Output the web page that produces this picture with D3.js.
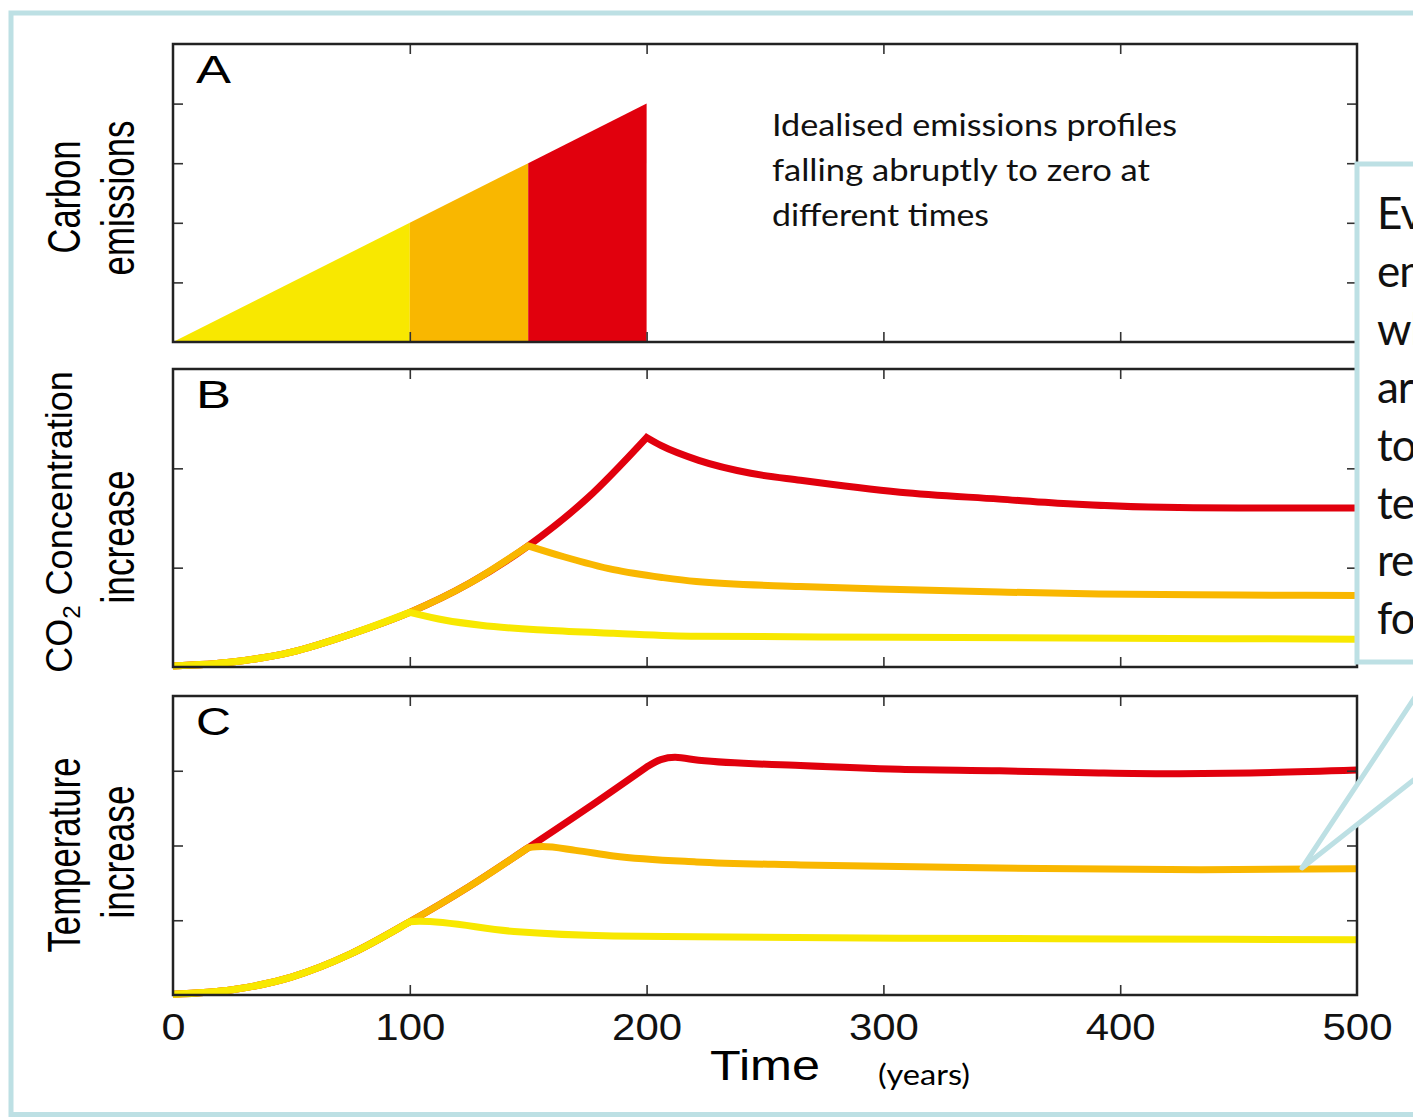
<!DOCTYPE html>
<html lang="en">
<head>
<meta charset="UTF-8">
<script src="https://d3js.org/d3.v7.min.js"></script>
<style>
  body { margin: 0; background: #fff; }
  svg { display: block; }
  .axis path { display: none; }
  .axis line { stroke: #333; stroke-width: 1.6; }
</style>
</head>
<body>
<svg id="chart" width="1413" height="1117"></svg>
<script>
// x axis
const xTicks = [0, 100, 200, 300, 400, 500];

// panel A: emissions ramp, cut at three times
const emisT = [0, 100, 150, 200];
const emisV = [0, 2, 3, 4];
const seriesColors = ['#f8e800', '#f9b700', '#e1000d'];   // yellow, orange, red
const stopTimes = [100, 150, 200];

// panel B: CO2 concentration increase
const co2RiseT = [0, 25, 50, 75, 100, 125, 150, 175, 200];
const co2RiseV = [0.01, 0.05, 0.15, 0.33, 0.55, 0.84, 1.22, 1.70, 2.31];
const co2YellowT = [100, 115, 130, 158, 186, 221, 307, 400, 500];
const co2YellowV = [0.55, 0.47, 0.42, 0.37, 0.34, 0.31, 0.30, 0.29, 0.28];
const co2OrangeT = [150, 165, 186, 207, 221, 265, 307, 349, 391, 450, 500];
const co2OrangeV = [1.22, 1.11, 0.98, 0.90, 0.86, 0.81, 0.78, 0.755, 0.735, 0.725, 0.72];
const co2RedT = [200, 206, 222, 244, 265, 307, 349, 380, 412, 450, 500];
const co2RedV = [2.31, 2.23, 2.08, 1.95, 1.88, 1.76, 1.69, 1.64, 1.61, 1.60, 1.60];

// panel C: temperature increase
const tempRiseT = [0, 25, 50, 75, 100, 125, 150, 175, 200];
const tempRiseV = [0.01, 0.07, 0.24, 0.55, 0.98, 1.45, 1.97, 2.50, 3.05];
const tempYellowT = [100, 104, 144, 186, 221, 307, 400, 500];
const tempYellowV = [0.98, 0.985, 0.85, 0.79, 0.78, 0.76, 0.75, 0.74];
const tempOrangeT = [150, 156, 170, 186, 221, 265, 349, 434, 500];
const tempOrangeV = [1.97, 1.985, 1.935, 1.86, 1.78, 1.74, 1.70, 1.675, 1.69];
const tempRedT = [200, 206, 212, 222, 265, 307, 349, 391, 420, 455, 500];
const tempRedV = [3.05, 3.15, 3.18, 3.14, 3.07, 3.02, 3.00, 2.97, 2.96, 2.97, 3.01];

const noteLines = ['Idealised emissions profiles', 'falling abruptly to zero at', 'different times'];
const calloutLines = ['Even after', 'emissions cease,', 'which they', 'are unlikely', 'to do soon,',
  'temperatures', 'remain high', 'for centuries'];

const svg = d3.select('#chart');
const helv = '"Liberation Sans", Arial, Helvetica, sans-serif';
const gill = 'Lato, "Open Sans", sans-serif';
const frameBlue = '#bde0e4';

const x = d3.scaleLinear().domain([0, 500]).range([173, 1357]);
const zip = (t, v) => t.map((d, i) => [d, v[i]]);

// outer frame
svg.append('rect')
  .attr('x', 11).attr('y', 13).attr('width', 1500).attr('height', 1101.5)
  .attr('fill', 'none').attr('stroke', frameBlue).attr('stroke-width', 5);

function panel(top, bottom, ymax, yticks, letter) {
  const y = d3.scaleLinear().domain([0, ymax]).range([bottom, top]);
  const g = svg.append('g');
  const marks = g.append('g');
  const inner = xTicks.slice(1, -1);
  g.append('g').attr('class', 'axis').attr('transform', `translate(0,${bottom})`)
    .call(d3.axisBottom(x).tickValues(inner).tickSize(-10).tickFormat(''));
  g.append('g').attr('class', 'axis').attr('transform', `translate(0,${top})`)
    .call(d3.axisTop(x).tickValues(inner).tickSize(-10).tickFormat(''));
  g.append('g').attr('class', 'axis').attr('transform', `translate(${x(0)},0)`)
    .call(d3.axisLeft(y).tickValues(yticks).tickSize(-10).tickFormat(''));
  g.append('g').attr('class', 'axis').attr('transform', `translate(${x(500)},0)`)
    .call(d3.axisRight(y).tickValues(yticks).tickSize(-10).tickFormat(''));
  g.append('rect')
    .attr('x', x(0)).attr('y', top).attr('width', x(500) - x(0)).attr('height', bottom - top)
    .attr('fill', 'none').attr('stroke', '#222').attr('stroke-width', 2.5);
  g.append('text')
    .attr('x', 196).attr('y', top + 39)
    .attr('font-family', helv).attr('font-size', 39)
    .attr('textLength', 35).attr('lengthAdjust', 'spacingAndGlyphs')
    .text(letter);
  return { y, marks };
}

const A = panel(44, 342, 5, [1, 2, 3, 4], 'A');
const B = panel(369, 667, 3, [1, 2], 'B');
const C = panel(696, 995, 4, [1, 2, 3], 'C');

// panel A areas
const area = d3.area().x(d => x(d[0])).y0(A.y(0)).y1(d => A.y(d[1]));
const emis = zip(emisT, emisV);
for (let i = 0; i < 3; i++) {
  A.marks.append('path')
    .attr('d', area(emis.slice(i === 0 ? 0 : i, i + 2)))
    .attr('fill', seriesColors[i]);
}

// line panels: shared rise up to the stop time, then each decay
function drawLines(p, riseT, riseV, decays) {
  const line = d3.line().x(d => x(d[0])).y(d => p.y(d[1])).curve(d3.curveMonotoneX);
  const rise = zip(riseT, riseV);
  for (let i = 2; i >= 0; i--) {
    const up = rise.filter(d => d[0] <= stopTimes[i]);
    const down = zip(decays[i][0], decays[i][1]);
    p.marks.append('path')
      .attr('d', line(up) + line(down).replace(/^M/, 'L'))
      .attr('fill', 'none')
      .attr('stroke', seriesColors[i])
      .attr('stroke-width', 7)
      .attr('stroke-linejoin', 'miter');
  }
}
drawLines(B, co2RiseT, co2RiseV,
  [[co2YellowT, co2YellowV], [co2OrangeT, co2OrangeV], [co2RedT, co2RedV]]);
drawLines(C, tempRiseT, tempRiseV,
  [[tempYellowT, tempYellowV], [tempOrangeT, tempOrangeV], [tempRedT, tempRedV]]);

// x tick labels
const xl = svg.append('g').attr('class', 'axis').attr('transform', 'translate(0,995)')
  .call(d3.axisBottom(x).tickValues(xTicks).tickSize(0));
xl.selectAll('text')
  .attr('y', 45).attr('dy', null)
  .attr('font-family', helv).attr('font-size', 36).attr('fill', '#111')
  .attr('textLength', d => d === 0 ? 24 : 70).attr('lengthAdjust', 'spacingAndGlyphs');

svg.append('text').attr('x', 710).attr('y', 1080)
  .attr('font-family', helv).attr('font-size', 42)
  .attr('textLength', 110).attr('lengthAdjust', 'spacingAndGlyphs')
  .text('Time');
svg.append('text').attr('x', 878).attr('y', 1085)
  .attr('font-family', gill).attr('font-size', 28)
  .attr('textLength', 92).attr('lengthAdjust', 'spacingAndGlyphs')
  .text('(years)');

// rotated y labels
function vlabel(txt, bx, cy, size, len) {
  svg.append('text')
    .attr('transform', `translate(${bx},${cy}) rotate(-90)`)
    .attr('text-anchor', 'middle')
    .attr('font-family', helv).attr('font-size', size)
    .attr('textLength', len).attr('lengthAdjust', 'spacingAndGlyphs')
    .text(txt);
}
vlabel('Carbon', 80, 197, 46, 113);
vlabel('emissions', 134, 198, 46, 155);
vlabel('increase', 134, 537, 46, 133);
vlabel('Temperature', 80, 855, 46, 195);
vlabel('increase', 134, 852, 46, 133);

const co2 = svg.append('text')
  .attr('transform', 'translate(72,522) rotate(-90)')
  .attr('text-anchor', 'middle')
  .attr('font-family', helv).attr('font-size', 36);
co2.append('tspan').text('CO');
co2.append('tspan').attr('dy', 8).attr('font-size', 24).text('2');
co2.append('tspan').attr('dy', -8).text(' Concentration');

// note in panel A
svg.append('g').selectAll('text').data(noteLines).join('text')
  .attr('x', 772).attr('y', (d, i) => 136 + i * 45)
  .attr('font-family', gill).attr('font-size', 31).attr('fill', '#111')
  .attr('textLength', (d, i) => [405, 378, 217][i]).attr('lengthAdjust', 'spacingAndGlyphs')
  .text(d => d);

// callout box and pointer (runs off the right edge, as in the source figure)
svg.append('polygon')
  .attr('points', '1425,682 1302,868 1425,771')
  .attr('fill', '#fff').attr('stroke', frameBlue).attr('stroke-width', 5)
  .attr('stroke-linejoin', 'round');
svg.append('rect')
  .attr('x', 1357).attr('y', 164).attr('width', 200).attr('height', 498)
  .attr('fill', '#fff').attr('stroke', frameBlue).attr('stroke-width', 5);
svg.append('g').selectAll('text').data(calloutLines).join('text')
  .attr('x', 1377).attr('y', (d, i) => 229 + i * 57.9)
  .attr('font-family', gill).attr('font-size', 44).attr('fill', '#111')
  .attr('letter-spacing', -1)
  .text(d => d);
</script>
</body>
</html>
